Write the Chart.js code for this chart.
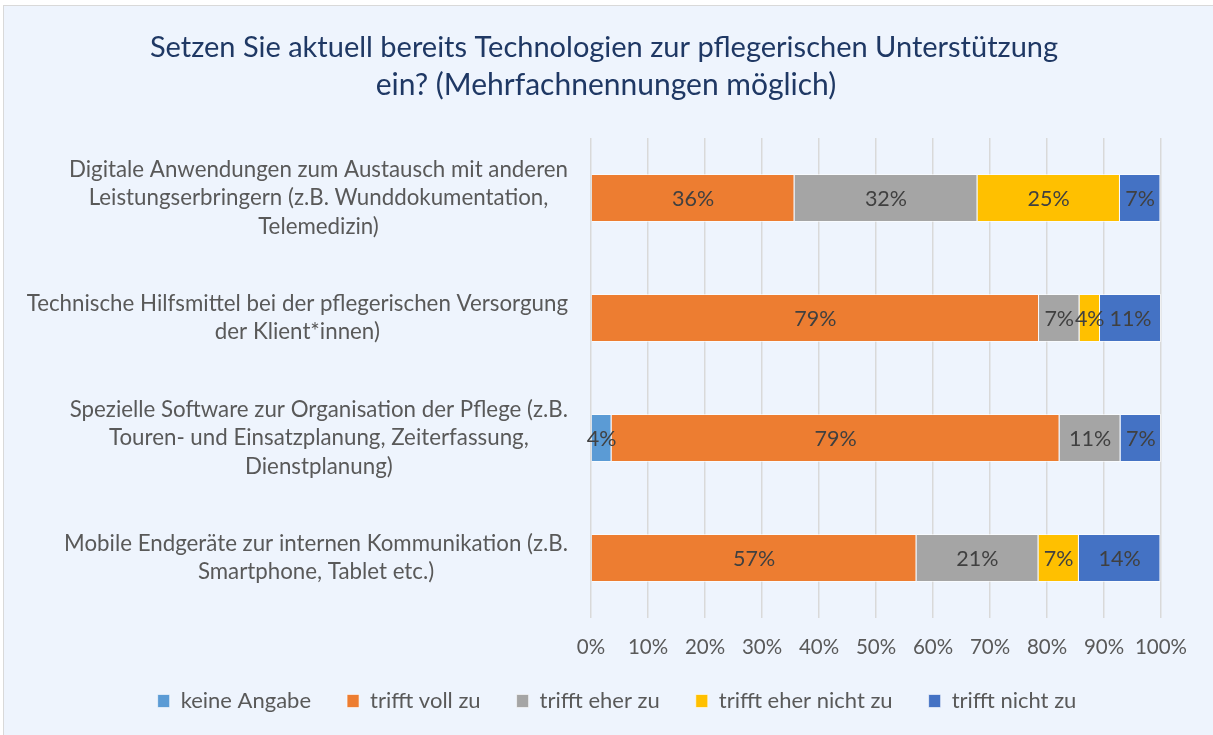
<!DOCTYPE html>
<html>
<head>
<meta charset="utf-8">
<script src="https://cdn.jsdelivr.net/npm/chart.js@4.4.1/dist/chart.umd.min.js"></script>
<style>
  html, body { margin: 0; padding: 0; background: #fff; overflow: hidden; }
  #frame { position: absolute; left: 3px; top: 5px; width: 1240px; height: 760px; border: 1px solid #d9d9d9; background: #eef4fd; }
  #wrap { position: absolute; left: 0; top: 0; width: 1213px; height: 735px; }
</style>
</head>
<body>
<div id="frame"></div>
<div id="wrap"><canvas id="chart"></canvas></div>
<script>
const titleLines = ['Setzen Sie aktuell bereits Technologien zur pflegerischen Unterstützung', 'ein? (Mehrfachnennungen möglich)'];

const categories = [
  ['Digitale Anwendungen zum Austausch mit anderen', 'Leistungserbringern (z.B. Wunddokumentation,', 'Telemedizin)'],
  ['Technische Hilfsmittel bei der pflegerischen Versorgung', 'der Klient*innen)'],
  ['Spezielle Software zur Organisation der Pflege (z.B.', 'Touren- und Einsatzplanung, Zeiterfassung,', 'Dienstplanung)'],
  ['Mobile Endgeräte zur internen Kommunikation (z.B.', 'Smartphone, Tablet etc.)']
];

const seriesNames = ['keine Angabe', 'trifft voll zu', 'trifft eher zu', 'trifft eher nicht zu', 'trifft nicht zu'];
const seriesColors = ['#5b9bd5', '#ed7d31', '#a5a5a5', '#ffc000', '#4472c4'];

// percent of answers per category (row order as above)
const keineAngabe       = [0,    0,    3.6,  0];
const trifftVollZu      = [35.7, 78.6, 78.6, 57.1];
const trifftEherZu      = [32.1, 7.1,  10.7, 21.4];
const trifftEherNichtZu = [25.0, 3.6,  0,    7.1];
const trifftNichtZu     = [7.1,  10.7, 7.1,  14.3];

const xTickValues = [0, 10, 20, 30, 40, 50, 60, 70, 80, 90, 100];

const FONT = 'Lato, "Open Sans", sans-serif';
const TEXT = '#595959';
const PAD_LEFT = 73;

const seriesValues = [keineAngabe, trifftVollZu, trifftEherZu, trifftEherNichtZu, trifftNichtZu];

const titlePlugin = {
  id: 'titleText',
  afterDraw(chart) {
    const ctx = chart.ctx;
    ctx.save();
    ctx.font = '29px ' + FONT;
    ctx.fillStyle = '#1f3864';
    ctx.textAlign = 'center';
    ctx.textBaseline = 'middle';
    ctx.fillText(titleLines[0], 604, 48);
    ctx.font = '30px ' + FONT;
    ctx.fillText(titleLines[1], 606, 85);
    ctx.restore();
  }
};

// category labels: each block right aligned, its lines centred on each other
const categoryLabels = {
  id: 'categoryLabels',
  afterDraw(chart) {
    const ctx = chart.ctx;
    const y = chart.scales.y;
    ctx.save();
    ctx.font = '22.3px ' + FONT;
    ctx.fillStyle = TEXT;
    ctx.textAlign = 'center';
    ctx.textBaseline = 'middle';
    categories.forEach((lines, i) => {
      const w = Math.max(...lines.map(l => ctx.measureText(l).width));
      const cx = 568 - w / 2;
      const cy = y.getPixelForValue(i);
      const lh = 28.5;
      lines.forEach((l, k) => {
        ctx.fillText(l, cx, cy + (k - (lines.length - 1) / 2) * lh);
      });
    });
    ctx.restore();
  }
};

const valueLabels = {
  id: 'valueLabels',
  afterDatasetsDraw(chart) {
    const ctx = chart.ctx;
    ctx.save();
    ctx.font = '21.5px ' + FONT;
    ctx.fillStyle = '#404040';
    ctx.textAlign = 'center';
    ctx.textBaseline = 'middle';
    chart.data.datasets.forEach((ds, di) => {
      chart.getDatasetMeta(di).data.forEach((bar, i) => {
        const v = ds.data[i];
        if (!v) return;
        const p = bar.getProps(['x', 'y', 'base'], true);
        ctx.fillText(Math.round(v) + '%', (p.x + p.base) / 2, p.y + 1);
      });
    });
    ctx.restore();
  }
};

new Chart(document.getElementById('chart').getContext('2d'), {
  type: 'bar',
  data: {
    labels: categories,
    datasets: seriesNames.map((name, i) => ({
      label: name,
      data: seriesValues[i],
      backgroundColor: seriesColors[i],
      borderColor: 'rgba(255,255,255,0.6)',
      borderWidth: 1,
      barPercentage: 0.4,
      categoryPercentage: 1
    }))
  },
  options: {
    indexAxis: 'y',
    responsive: true,
    maintainAspectRatio: false,
    animation: false,
    layout: { padding: { left: PAD_LEFT, right: 52, top: 138, bottom: 13 } },
    plugins: {
      title: { display: false },
      tooltip: { enabled: false },
      legend: {
        position: 'bottom',
        labels: {
          font: { family: FONT, size: 22 },
          color: TEXT,
          boxWidth: 12,
          boxHeight: 13,
          padding: 36
        }
      }
    },
    scales: {
      x: {
        stacked: true,
        min: 0,
        max: 100,
        afterBuildTicks: s => { s.ticks = xTickValues.map(v => ({ value: v })); },
        afterFit: s => { s.height = 36; },
        grid: { color: '#d9d9d9', lineWidth: 1.5, drawTicks: false },
        border: { display: false },
        ticks: {
          padding: 17,
          color: TEXT,
          font: { family: FONT, size: 20.5 },
          maxRotation: 0,
          minRotation: 0,
          autoSkip: false,
          callback: v => v + '%'
        }
      },
      y: {
        stacked: true,
        afterFit: s => { s.width = 591 - PAD_LEFT; },
        grid: { display: false },
        border: { display: false },
        ticks: { display: false }
      }
    }
  },
  plugins: [titlePlugin, categoryLabels, valueLabels]
});
</script>
</body>
</html>
